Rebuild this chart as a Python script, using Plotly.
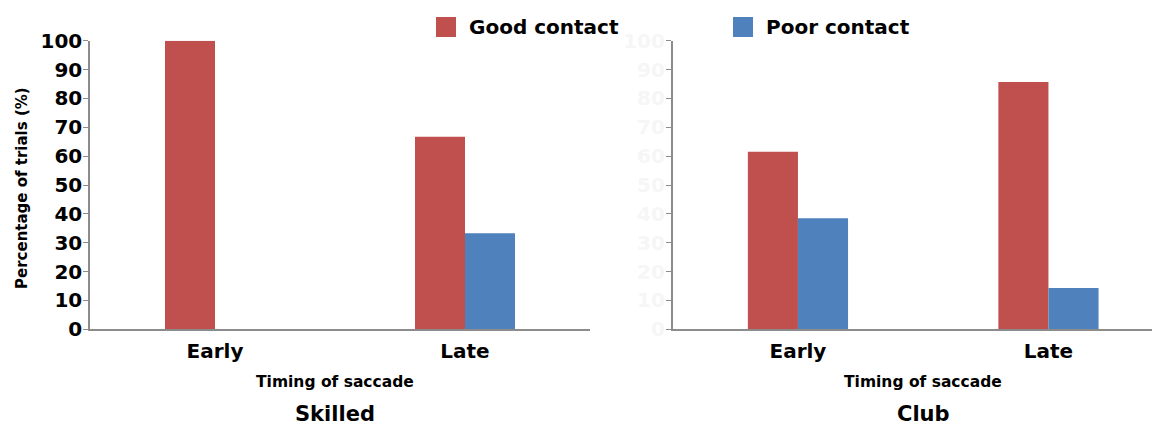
import plotly.graph_objects as go

# Data: percentage of trials by saccade timing and contact quality
categories = ["Early", "Late"]
skilled_good = [100, 66.7]
skilled_poor = [0, 33.3]
club_good = [61.5, 85.7]
club_poor = [38.5, 14.3]
series_names = ["Good contact", "Poor contact"]
panel_titles = ["Skilled", "Club"]
y_ticks = list(range(0, 101, 10))

RED = "#C0504D"
BLUE = "#4F81BD"
FONT = "DejaVu Sans, Arial, sans-serif"
W, H = 1152, 428


def px(x):
    return x / W


def py(y):
    return 1 - y / H


def bold(size, color="black"):
    return dict(family=FONT, size=size, color=color, weight="bold")


fig = go.Figure()

for good, poor, xa, ya in [(skilled_good, skilled_poor, "x", "y"),
                           (club_good, club_poor, "x2", "y2")]:
    fig.add_trace(go.Bar(x=categories, y=good, name=series_names[0],
                         marker=dict(color=RED, line=dict(width=0)),
                         xaxis=xa, yaxis=ya, showlegend=False))
    fig.add_trace(go.Bar(x=categories, y=poor, name=series_names[1],
                         marker=dict(color=BLUE, line=dict(width=0)),
                         xaxis=xa, yaxis=ya, showlegend=False))

y_bottom, y_top = 329.3, 40.7
ydom = [py(y_bottom), py(y_top)]
axis_col = "#8c8c8c"

common_x = dict(showgrid=False, zeroline=False, showline=True, linecolor=axis_col,
                linewidth=1.5, ticks="", type="category", automargin=False,
                ticklabelstandoff=3, tickfont=bold(20))
common_y = dict(range=[0, 100], tickvals=y_ticks, showgrid=False, zeroline=False,
                showline=True, linecolor=axis_col, linewidth=1.5, ticks="outside",
                ticklen=5, tickcolor=axis_col, automargin=False, ticklabelstandoff=-3)

fig.update_layout(
    template="none",
    width=W, height=H,
    margin=dict(l=0, r=0, t=0, b=0, autoexpand=False),
    paper_bgcolor="white", plot_bgcolor="white",
    barmode="group", bargap=0.6, bargroupgap=0,
    xaxis=dict(domain=[px(90), px(590)], range=[-0.5, 1.5], anchor="y", **common_x),
    yaxis=dict(domain=ydom, anchor="x", tickfont=bold(20), **common_y),
    xaxis2=dict(domain=[px(672.7), 1.0], range=[-0.5, -0.5 + (W - 672.7) / 250.5],
                anchor="y2", **common_x),
    yaxis2=dict(domain=ydom, anchor="x2", tickfont=bold(20, "#f6f6f6"), **common_y),
    showlegend=False,
)

annotations = []
# y axis title
annotations.append(dict(x=px(22), y=py(188), xref="paper", yref="paper",
                        xanchor="center", yanchor="middle",
                        text="Percentage of trials (%)", textangle=-90, showarrow=False,
                        font=bold(15)))
# x axis titles and panel titles
for cx, title in [(px(335), panel_titles[0]), (px(923), panel_titles[1])]:
    annotations.append(dict(x=cx, y=py(382), xref="paper", yref="paper",
                            xanchor="center", yanchor="middle",
                            text="Timing of saccade", showarrow=False, font=bold(15.5)))
    annotations.append(dict(x=cx, y=py(414), xref="paper", yref="paper",
                            xanchor="center", yanchor="middle",
                            text=title, showarrow=False, font=bold(21)))

# legend
shapes = []
for (x0, color, name) in [(436, RED, series_names[0]), (733, BLUE, series_names[1])]:
    shapes.append(dict(type="rect", xref="paper", yref="paper",
                       x0=px(x0), x1=px(x0 + 20), y0=py(37), y1=py(17),
                       fillcolor=color, line=dict(width=0)))
    annotations.append(dict(x=px(x0 + 31), y=py(27), xref="paper", yref="paper",
                            xanchor="left", yanchor="middle", text=name, showarrow=False,
                            font=bold(20)))

fig.update_layout(annotations=annotations, shapes=shapes)

fig.write_html("out.html")
